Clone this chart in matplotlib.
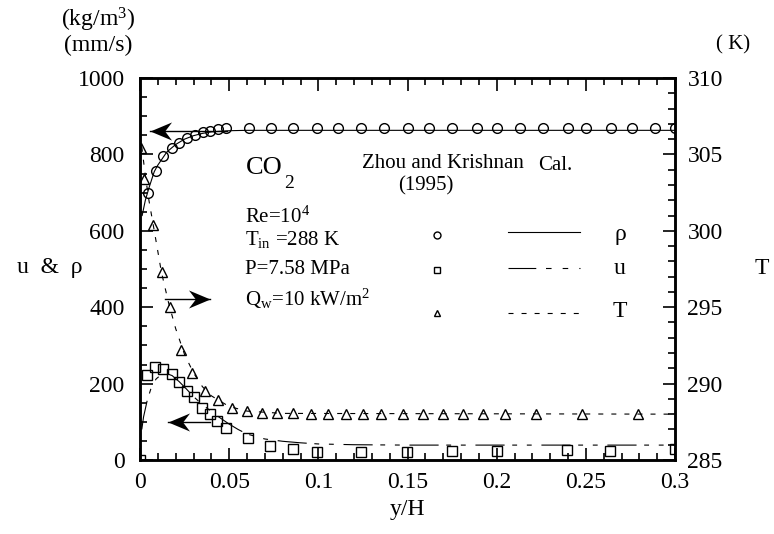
import numpy as np
import matplotlib
matplotlib.use('Agg')
import matplotlib.pyplot as plt
from matplotlib.path import Path
from matplotlib.ticker import MultipleLocator

plt.rcParams['font.family'] = ['Liberation Serif', 'DejaVu Serif']
plt.rcParams['mathtext.fontset'] = 'custom'
plt.rcParams['mathtext.rm'] = 'Liberation Serif'
plt.rcParams['mathtext.it'] = 'Liberation Serif:italic'
plt.rcParams['lines.scale_dashes'] = False

# measured density (Zhou and Krishnan 1995)
rho_x = [0.0047, 0.009, 0.0131, 0.0178, 0.022, 0.0265, 0.0308, 0.0352, 0.0393,
         0.044, 0.0483, 0.0613, 0.0733, 0.0856, 0.099, 0.111, 0.124, 0.137,
         0.150, 0.162, 0.175, 0.189, 0.200, 0.213, 0.226, 0.240, 0.250, 0.264,
         0.276, 0.289, 0.300]
rho_v = [700, 757, 796, 816, 831, 844, 852, 858, 862, 866, 868, 870, 870, 870,
         870, 870, 870, 870, 870, 870, 870, 870, 870, 870, 870, 870, 870, 870,
         870, 870, 870]

# measured velocity
u_x = [0.0, 0.0037, 0.0084, 0.0131, 0.0178, 0.022, 0.0265, 0.0303, 0.0346,
       0.0393, 0.0434, 0.0482, 0.0607, 0.0731, 0.086, 0.099, 0.124, 0.1496,
       0.1748, 0.2, 0.2393, 0.2636, 0.3]
u_v = [0, 222, 244, 237, 224, 205, 181, 166, 135, 120, 102, 85, 57, 36, 28, 20,
       21, 21, 23, 23, 25, 23, 29]

# measured temperature
T_x = [0.0004, 0.0022, 0.0071, 0.0122, 0.0168, 0.0228, 0.029, 0.0365, 0.0439,
       0.0514, 0.0598, 0.0683, 0.0767, 0.086, 0.0957, 0.1056, 0.1155, 0.1252,
       0.1352, 0.1473, 0.1586, 0.1698, 0.181, 0.1922, 0.2047, 0.2221, 0.2477,
       0.2795]
T_v = [305.4, 303.4, 300.4, 297.3, 295.0, 292.2, 290.7, 289.5, 288.9, 288.4,
       288.2, 288.1, 288.1, 288.05, 288.0, 288.0, 288.0, 288.0, 288.0, 288.0,
       288.0, 288.0, 288.0, 288.0, 288.0, 288.0, 288.0, 288.0]

# calculated profiles
rho_cx = [0.0012, 0.003, 0.005, 0.008, 0.01, 0.015, 0.02, 0.025, 0.03, 0.035,
          0.04, 0.05, 0.06, 0.3]
rho_cv = [640, 680, 712, 755, 772, 806, 826, 840, 849, 855, 859, 862, 863, 863]

u_cx = [0.001, 0.002, 0.004, 0.006, 0.009, 0.012, 0.015, 0.018, 0.022, 0.026,
        0.03, 0.035, 0.04, 0.045, 0.05, 0.055, 0.06, 0.07, 0.08, 0.09, 0.1,
        0.12, 0.15, 0.3]
u_cv = [80, 113, 155, 185, 212, 224, 226, 221, 205, 186, 166, 145, 127, 110,
        94, 80, 68, 55, 49, 45, 42, 40, 39, 39]

T_cx = [0.001, 0.003, 0.005, 0.008, 0.012, 0.016, 0.02, 0.025, 0.03, 0.035,
        0.04, 0.05, 0.06, 0.08, 0.3]
T_cv = [305.5, 303.6, 302.0, 300.0, 297.3, 295.3, 293.6, 291.9, 290.7, 289.8,
        289.2, 288.5, 288.2, 288.05, 288.0]

W, H = 774, 534
fig = plt.figure(figsize=(W / 100, H / 100), dpi=100, facecolor='white')

def fpos(x, y):
    return x / W, 1 - y / H

ax = fig.add_axes([140 / W, 1 - 460 / H, 535 / W, 382 / H])
ax2 = ax.twinx()

u_dash = [21, 5.5, 3.5, 7, 3.5, 7]
T_dash = [3.6, 5.8]
lw = 0.8

ax.plot(rho_cx, rho_cv, '-', color='black', lw=lw)
ax.plot(u_cx, u_cv, color='black', lw=lw, dashes=u_dash)
ax2.plot(T_cx, T_cv, color='black', lw=lw, dashes=T_dash)

mk = dict(ls='none', mfc='none', mec='black', mew=1.0)
ax.plot(rho_x, rho_v, marker='o', ms=7, **mk)
ax.plot(u_x, u_v, marker='s', ms=7.5, **mk)
ax2.plot(T_x, T_v, marker='^', ms=7.5, **mk)

ax.set_xlim(0, 0.3)
ax.set_ylim(0, 1000)
ax2.set_ylim(285, 310)

ax.xaxis.set_major_locator(MultipleLocator(0.05))
ax.xaxis.set_minor_locator(MultipleLocator(0.01))
ax.yaxis.set_major_locator(MultipleLocator(200))
ax.yaxis.set_minor_locator(MultipleLocator(50))
ax2.yaxis.set_major_locator(MultipleLocator(5))
ax2.yaxis.set_minor_locator(MultipleLocator(1))
ax.set_xticks([0, 0.05, 0.1, 0.15, 0.2, 0.25, 0.3])
ax.set_xticklabels(['0', '0.05', '0.1', '0.15', '0.2', '0.25', '0.3'])

ax.tick_params(which='both', direction='in', top=True, right=False,
               labelsize=17, width=1.2)
ax.tick_params(which='major', length=9)
ax.tick_params(which='minor', length=5)
ax.tick_params(axis='y', pad=11)
ax.tick_params(axis='x', pad=9)
ax2.tick_params(which='both', direction='in', labelsize=17, width=1.2, pad=9)
ax2.tick_params(which='major', length=9)
ax2.tick_params(which='minor', length=5)
for a in (ax, ax2):
    for s in a.spines.values():
        s.set_linewidth(1.8)

# barbed arrow heads pointing to the axis each curve belongs to
barb = Path([(0, 0), (1, 0.42), (0.68, 0), (1, -0.42), (0, 0)],
            [Path.MOVETO, Path.LINETO, Path.LINETO, Path.LINETO, Path.CLOSEPOLY])
barb_r = Path([(0, 0), (-1, 0.42), (-0.68, 0), (-1, -0.42), (0, 0)],
              [Path.MOVETO, Path.LINETO, Path.LINETO, Path.LINETO, Path.CLOSEPOLY])

def arrow(x0, x1, y, left=True):
    ax.plot([x0, x1], [y, y], '-', color='black', lw=1.0)
    ax.plot([x1], [y], marker=barb if left else barb_r, ms=31,
            color='black', mew=0)

arrow(0.049, 0.0056, 861)
arrow(0.014, 0.039, 421, left=False)
arrow(0.039, 0.0157, 100)

ax.set_xlabel('y/H', fontsize=17, labelpad=4)

fig.text(*fpos(98, 20), '(kg/m$^3$)', fontsize=17, ha='center', va='center')
fig.text(*fpos(98, 45), '(mm/s)', fontsize=17, ha='center', va='center')
fig.text(*fpos(50, 268), 'u  &  ρ', fontsize=17, ha='center', va='center')
fig.text(*fpos(733, 45), '( K)', fontsize=15, ha='center', va='center')
fig.text(*fpos(762, 268), 'T', fontsize=17, ha='center', va='center')

# CO2 with a deep subscript
fig.text(*fpos(246, 168), 'CO', fontsize=19, ha='left', va='center')
fig.text(*fpos(284, 184), '2', fontsize=14, ha='left', va='center')
fig.text(*fpos(443, 164), 'Zhou and Krishnan', fontsize=15, ha='center', va='center')
fig.text(*fpos(426, 186), '(1995)', fontsize=15, ha='center', va='center')
fig.text(*fpos(555, 166), 'Cal.', fontsize=15, ha='center', va='center')
fig.text(*fpos(245, 217), 'Re=10$^4$', fontsize=15, ha='left', va='center')
fig.text(*fpos(245, 240), r'T$_{\rm in}$ =288 K', fontsize=15, ha='left', va='center')
fig.text(*fpos(245, 270), 'P=7.58 MPa', fontsize=15, ha='left', va='center')
fig.text(*fpos(245, 299), r'Q$_{\rm w}$=10 kW/m$^2$', fontsize=15, ha='left', va='center')

# key: symbols, calculated line styles and names
ax.plot([0.555], [0.589], transform=ax.transAxes, marker='o', ms=5, **mk)
ax.plot([0.555], [0.497], transform=ax.transAxes, marker='s', ms=5, **mk)
ax.plot([0.555], [0.385], transform=ax.transAxes, marker='^', ms=5, **mk)
ax.plot([0.688, 0.822], [0.597, 0.597], transform=ax.transAxes, color='black', lw=lw)
ax.plot([0.688, 0.822], [0.503, 0.503], transform=ax.transAxes, color='black',
        lw=lw, dashes=[20, 7, 4, 8, 4, 8])
ax.plot([0.688, 0.822], [0.385, 0.385], transform=ax.transAxes, color='black',
        lw=lw, dashes=T_dash)
ax.text(0.897, 0.59, 'ρ', transform=ax.transAxes, fontsize=17, ha='center', va='center')
ax.text(0.897, 0.50, 'u', transform=ax.transAxes, fontsize=17, ha='center', va='center')
ax.text(0.897, 0.39, 'T', transform=ax.transAxes, fontsize=17, ha='center', va='center')

fig.savefig('out.png', dpi=100)
